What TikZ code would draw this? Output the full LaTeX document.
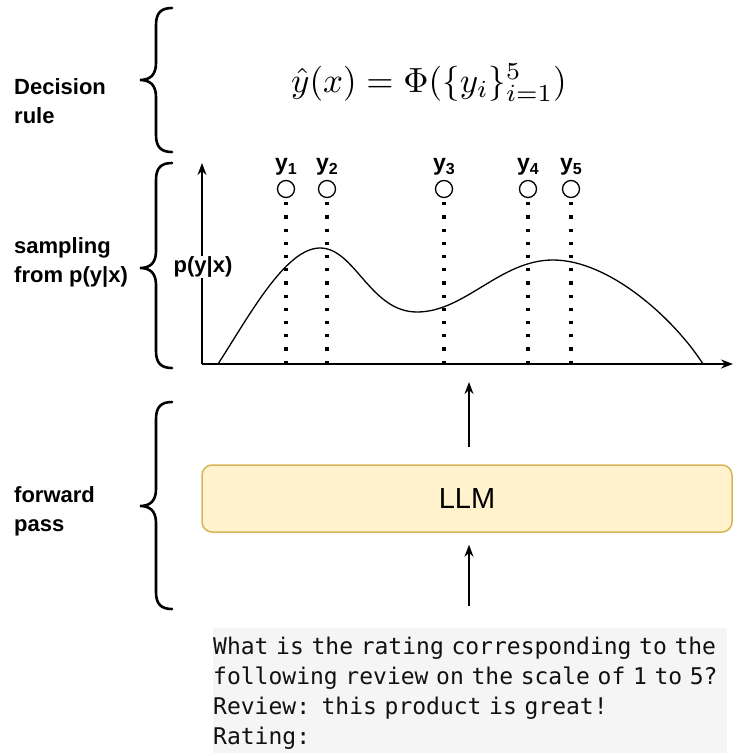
\documentclass[tikz,border=0pt]{standalone}
\usepackage{fontspec}
\setmainfont{Liberation Sans}
\newfontfamily\monof{DejaVu Sans Mono}
\usetikzlibrary{arrows.meta}
\definecolor{llmfill}{HTML}{FFF2CC}
\definecolor{llmdraw}{HTML}{D6B656}
\definecolor{promptbg}{HTML}{F5F5F5}
\definecolor{prompttext}{HTML}{111111}
\newcommand{\drawbrace}[3]{%
  \draw[brace] (172,#1) .. controls (161,#1) and (156,#1+5) .. (156,#1+17)
    -- (156,#2-17) .. controls (156,#2-5) and (150,#2) .. (140,#2)
    .. controls (150,#2) and (156,#2+5) .. (156,#2+17)
    -- (156,#3-17) .. controls (156,#3-5) and (161,#3) .. (172,#3);}
\newcommand{\ysub}[1]{y\raisebox{-4pt}{\fontsize{16}{16}\selectfont #1}}
\begin{document}
\begin{tikzpicture}[x=1pt,y=-1pt,
  brace/.style={line width=2.6pt, line cap=round},
  lbl/.style={font=\fontsize{22}{29}\selectfont\bfseries, align=left, anchor=north west, inner sep=0pt},
  ylab/.style={font=\fontsize{23}{24}\selectfont\bfseries, inner sep=0pt, anchor=base},
  samp/.style={circle, draw, line width=1.3pt, minimum size=17pt, inner sep=0pt},
  dots/.style={line width=3.2pt, dash pattern=on 3.2pt off 10pt},
  axis/.style={line width=1.3pt, -{Stealth[length=12pt,width=9pt]}},
  arr/.style={line width=1.3pt, -{Stealth[length=12pt,width=9pt]}},
  llmbox/.style={draw=llmdraw, fill=llmfill, line width=1.5pt, rounded corners=10pt,
    minimum width=530pt, minimum height=67pt, inner sep=0pt, font=\fontsize{29}{34}\selectfont},
  prompt/.style={fill=promptbg, text=prompttext, text width=514pt, align=left, inner xsep=0pt,
    inner ysep=9pt, anchor=north west, font=\monof\fontsize{23}{30}\selectfont},
]
\clip (0,0) rectangle (733,753);

% braces
\drawbrace{8}{80}{152}
\drawbrace{163}{268}{368}
\drawbrace{402}{506}{609}

% left labels
\node[lbl] (dec) at (14,78) {Decision\\rule};
\node[lbl] (samplbl) at (14,237) {sampling\\from p(y|x)};
\node[lbl] (fwd) at (14,486) {forward\\pass};

% decision rule formula
\node[scale=3.5, inner sep=0pt] (formula) at (429,83) {$\hat{y}(x) = \Phi(\{y_i\}_{i=1}^5)$};

% axes
\coordinate (origin) at (202,364);
\coordinate (ytop) at (202,163);
\coordinate (xend) at (733,364);
\draw[axis] (origin) -- (ytop);
\draw[axis] (origin) -- (xend);

% density curve
\draw[line width=1.3pt] (218,364) .. controls (248,318) and (285,248) .. (320,248)
  .. controls (355,248) and (370,312) .. (417,312)
  .. controls (465,312) and (500,260) .. (553,260)
  .. controls (610,260) and (675,320) .. (703,364);

% samples
\foreach \i/\x in {1/286,2/327,3/444,4/528,5/571}{
  \node[samp] (s\i) at (\x,189) {};
  \coordinate (b\i) at (\x,364);
  \draw[dots] ([yshift=-4pt]s\i.south) -- (b\i);
  \node[ylab] (l\i) at (\x,170) {\ysub{\i}};
}

% p(y|x) axis label
\node[fill=white, inner sep=1pt, font=\fontsize{22}{24}\selectfont\bfseries] (plab) at (203,267) {p(y|x)};

% LLM
\node[llmbox] (llm) at (467,498.5) {LLM};
\coordinate (xa) at (469,0);

% prompt
\node[prompt] (prompt) at (213,628) {What is the rating corresponding to the\\following review on the scale of 1 to 5?\\Review: this product is great!\\Rating:};

% arrows
\draw[arr, shorten <=17pt, shorten >=18pt] (llm.north -| xa) -- (xa |- origin);
\draw[arr, shorten <=22pt, shorten >=12pt] (prompt.north -| xa) -- (llm.south -| xa);
\end{tikzpicture}
\end{document}
